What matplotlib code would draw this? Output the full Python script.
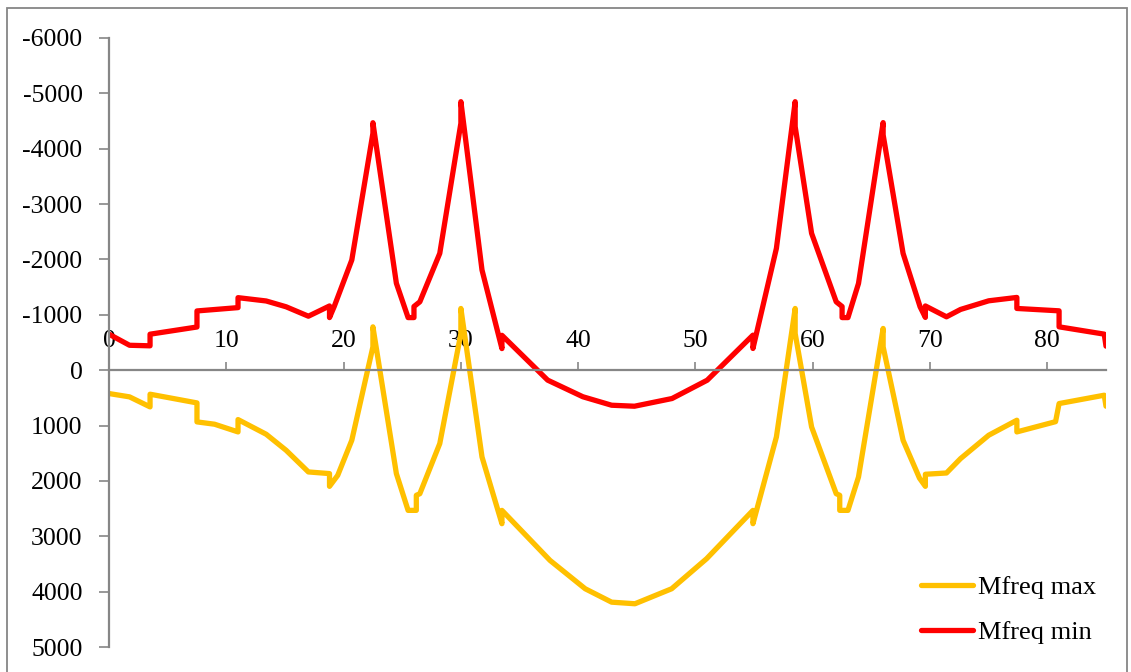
import matplotlib
matplotlib.use('Agg')
import matplotlib.pyplot as plt
from matplotlib.patches import Rectangle

# Mfreq max (yellow) - positions along beam and moment values
x_max = [0.0, 1.75, 3.5, 3.5, 7.5, 7.5, 9.0, 11.0, 11.0, 13.4, 15.1, 17.0,
         18.8, 18.8, 19.5, 20.7, 22.5, 22.5, 24.5, 25.5, 26.2, 26.2, 26.5,
         28.2, 30.0, 30.0, 31.8, 33.5, 33.5, 37.6, 40.6, 42.85, 44.84,
         47.97, 50.95, 54.9, 54.9, 56.9, 58.5, 58.5, 59.9, 62.0, 62.3, 62.3,
         63.0, 63.9, 66.0, 66.0, 67.7, 69.1, 69.6, 69.6, 71.4, 72.6, 75.0,
         77.4, 77.4, 80.7, 81.0, 84.85, 85.0]
m_max = [422, 482, 663, 434, 591, 934, 976, 1115, 892, 1157, 1447, 1838,
         1868, 2098, 1899, 1266, -422, -783, 1868, 2532, 2532, 2260, 2231,
         1326, -663, -1115, 1567, 2773, 2532, 3436, 3948, 4190, 4219,
         3948, 3405, 2532, 2773, 1206, -1115, -663, 1025, 2231, 2260, 2532,
         2532, 1929, -754, -422, 1266, 1950, 2098, 1880, 1857, 1597, 1175,
         904, 1115, 930, 603, 452, 651]

# Mfreq min (red)
x_min = [0.0, 1.75, 3.5, 3.5, 7.5, 7.5, 11.0, 11.0, 13.4, 15.1, 17.0, 18.8,
         18.8, 19.2, 20.7, 22.5, 22.5, 24.5, 25.5, 26.0, 26.0, 26.5, 28.2,
         30.0, 30.0, 31.8, 33.5, 33.5, 37.4, 40.4, 42.85, 44.8, 48.0, 51.0,
         54.9, 54.9, 56.9, 58.5, 58.5, 59.9, 62.0, 62.5, 62.5, 63.0, 63.9,
         66.0, 66.0, 67.7, 69.15, 69.6, 69.6, 71.4, 72.6, 75.0, 77.4, 77.4,
         81.0, 81.0, 84.85, 85.0]
m_min = [-650, -450, -440, -650, -780, -1070, -1130, -1310, -1250, -1145,
         -975, -1160, -950, -1150, -1990, -4280, -4470, -1570, -950, -950,
         -1150, -1235, -2110, -4460, -4850, -1810, -390, -630, 180, 480,
         633, 651, 512, 181, -633, -392, -2200, -4850, -4400, -2472, -1235,
         -1150, -950, -950, -1567, -4472, -4250, -2110, -1145, -953, -1160,
         -964, -1097, -1253, -1314, -1115, -1072, -783, -651, -434]

x_ticks = [0, 10, 20, 30, 40, 50, 60, 70, 80]
y_ticks = [-6000, -5000, -4000, -3000, -2000, -1000, 0, 1000, 2000, 3000, 4000, 5000]


def main():
    plt.rcParams['font.family'] = ['Liberation Serif', 'DejaVu Serif']
    plt.rcParams['axes.unicode_minus'] = False

    fig = plt.figure(figsize=(11.31, 6.72), dpi=100)
    ax = fig.add_axes([109 / 1131, 1 - 647 / 672, (1106 - 109) / 1131, (647 - 38) / 672])

    ax.plot(x_max, m_max, color='#FFC000', lw=3.8, label='Mfreq max',
            solid_joinstyle='round', solid_capstyle='round')
    ax.plot(x_min, m_min, color='#FF0000', lw=3.8, label='Mfreq min',
            solid_joinstyle='round', solid_capstyle='round')

    ax.set_xlim(0, 85)
    ax.set_ylim(5000, -6000)
    ax.set_xticks(x_ticks)
    ax.set_yticks(y_ticks)

    grey = '#868686'
    for s in ['bottom', 'right']:
        ax.spines[s].set_visible(False)
    ax.spines['top'].set_position(('data', 0))
    ax.spines['top'].set_color(grey)
    ax.spines['top'].set_linewidth(1.6)
    ax.spines['left'].set_color(grey)
    ax.spines['left'].set_linewidth(1.6)
    ax.xaxis.tick_top()
    ax.tick_params(axis='x', direction='out', length=6, width=1.2, color=grey,
                   labelsize=18.5, pad=7)
    ax.tick_params(axis='y', direction='out', length=7, width=1.2, color=grey,
                   labelsize=18.5, pad=12)

    ax.legend(loc='center left', bbox_to_anchor=(0.801, 0.061), frameon=False,
              fontsize=19, handlelength=1.97, handletextpad=0.2, labelspacing=0.8,
              borderpad=0)

    # chart area border
    fig.patches.append(Rectangle((7 / 1131, -0.01), 1120 / 1131, 1.01 - 8 / 672,
                                 transform=fig.transFigure, fill=False,
                                 edgecolor=grey, lw=1.3))

    fig.savefig('out.png', dpi=100)


if __name__ == "__main__":
    main()
